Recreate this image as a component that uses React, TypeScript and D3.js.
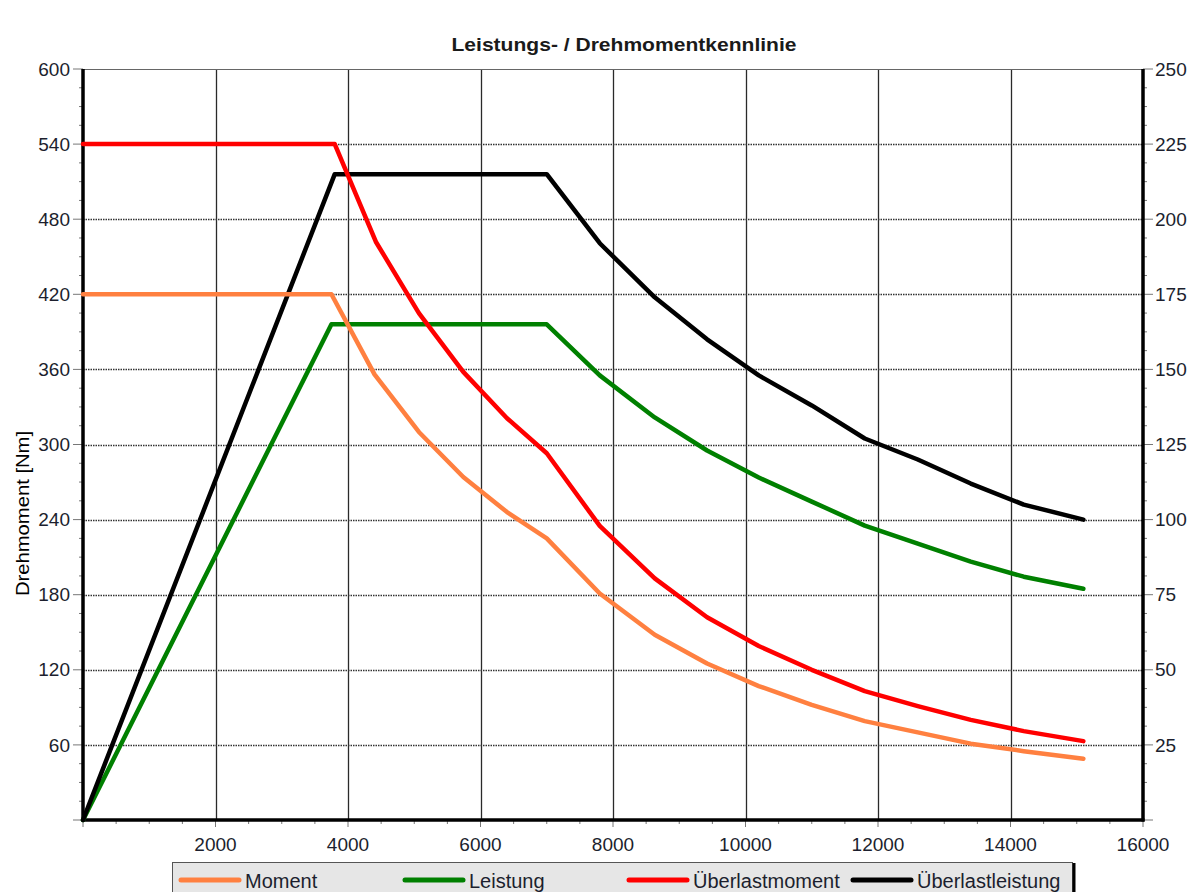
import * as d3 from 'd3';
import { useEffect, useRef } from 'react';

// ── Data ──────────────────────────────────────────────────────────────────
const rpmNominal = [0, 3750, 4400, 5070, 5740, 6400, 7000, 7800, 8630, 9420, 10200, 11000, 11800, 12600, 13400, 14200, 15100];
const momentNm = [420, 420, 356, 310, 274, 246, 225, 181, 148, 125, 107, 92, 79, 70, 61, 55, 49];
const leistungKw = [0, 165, 165, 165, 165, 165, 165, 148, 134, 123, 114, 106, 98, 92, 86, 81, 77];

const rpmOverload = [0, 3800, 4420, 5070, 5740, 6400, 7000, 7800, 8630, 9420, 10200, 11000, 11800, 12600, 13400, 14200, 15100];
const ueberlastMomentNm = [540, 540, 462, 405, 358, 321, 293, 235, 193, 162, 139, 120, 103, 91, 80, 71, 63];
const ueberlastLeistungKw = [0, 215, 215, 215, 215, 215, 215, 192, 174, 160, 148, 138, 127, 120, 112, 105, 100];

const xTickValues = [2000, 4000, 6000, 8000, 10000, 12000, 14000, 16000];
const yLeftTickValues = [60, 120, 180, 240, 300, 360, 420, 480, 540, 600];
const yRightTickValues = [25, 50, 75, 100, 125, 150, 175, 200, 225, 250];

const legendLabels = ['Moment', 'Leistung', 'Überlastmoment', 'Überlastleistung'];
const seriesColors = ['#ff8040', '#008000', '#ff0000', '#000000'];

const W = 1197;
const H = 892;
const margin = { top: 69, right: 54, bottom: 72, left: 83 };

const App = () => {
  const svgRef = useRef<SVGSVGElement | null>(null);

  useEffect(() => {
    if (!svgRef.current) return;
    const svg = d3.select(svgRef.current);
    svg.selectAll('*').remove();

    const x0 = margin.left;
    const x1 = W - margin.right;
    const y0 = H - margin.bottom;
    const y1 = margin.top;

    // ── Scales ──────────────────────────────────────────────────────────
    const x = d3.scaleLinear().domain([0, 16000]).range([x0, x1]);
    const yL = d3.scaleLinear().domain([0, 600]).range([y0, y1]);
    const yR = d3.scaleLinear().domain([0, 250]).range([y0, y1]);

    svg.append('rect').attr('width', W).attr('height', H).attr('fill', '#fff');

    // ── Grid ────────────────────────────────────────────────────────────
    const grid = svg.append('g');
    grid
      .selectAll('line.vg')
      .data(xTickValues.filter(v => v < 16000))
      .join('line')
      .attr('x1', d => Math.round(x(d)) + 0.5)
      .attr('x2', d => Math.round(x(d)) + 0.5)
      .attr('y1', y1)
      .attr('y2', y0)
      .attr('stroke', '#2a2a2a')
      .attr('stroke-width', 1.3);

    grid
      .selectAll('line.hg')
      .data(yLeftTickValues.filter(v => v < 600))
      .join('line')
      .attr('x1', x0)
      .attr('x2', x1)
      .attr('y1', d => Math.round(yL(d)) + 0.5)
      .attr('y2', d => Math.round(yL(d)) + 0.5)
      .attr('stroke', '#333')
      .attr('stroke-width', 1.3)
      .attr('stroke-dasharray', '1.5 1');

    // top border
    svg.append('line').attr('x1', x0).attr('x2', x1).attr('y1', y1 + 0.5).attr('y2', y1 + 0.5).attr('stroke', '#666').attr('stroke-width', 1.2);

    // ── Axes ────────────────────────────────────────────────────────────
    const tickFont = "'Liberation Sans', Arial, sans-serif";
    const tickColor = '#1c1f2e';

    const xMinor = d3.range(0, 16001, 500);
    svg
      .append('g')
      .selectAll('line')
      .data(xMinor)
      .join('line')
      .attr('x1', d => x(d))
      .attr('x2', d => x(d))
      .attr('y1', y0)
      .attr('y2', d => (d % 2000 === 0 ? y0 + 7 : y0 + 4))
      .attr('stroke', '#777')
      .attr('stroke-width', 1);

    const yLMinor = d3.range(0, 601, 15);
    svg
      .append('g')
      .selectAll('line')
      .data(yLMinor)
      .join('line')
      .attr('x1', d => (d % 60 === 0 ? x0 - 10 : x0 - 4))
      .attr('x2', x0)
      .attr('y1', d => yL(d))
      .attr('y2', d => yL(d))
      .attr('stroke', '#777')
      .attr('stroke-width', 1);

    const yRMinor = d3.range(0, 251, 6.25);
    svg
      .append('g')
      .selectAll('line')
      .data(yRMinor)
      .join('line')
      .attr('x1', x1)
      .attr('x2', d => (d % 25 === 0 ? x1 + 10 : x1 + 4))
      .attr('y1', d => yR(d))
      .attr('y2', d => yR(d))
      .attr('stroke', '#777')
      .attr('stroke-width', 1);

    // axis lines
    svg.append('line').attr('x1', x0).attr('x2', x0).attr('y1', y1).attr('y2', y0 + 1.5).attr('stroke', '#000').attr('stroke-width', 3.5);
    svg.append('line').attr('x1', x1).attr('x2', x1).attr('y1', y1).attr('y2', y0 + 1.5).attr('stroke', '#000').attr('stroke-width', 3.5);
    svg.append('line').attr('x1', x0 - 1.5).attr('x2', x1 + 1.5).attr('y1', y0).attr('y2', y0).attr('stroke', '#000').attr('stroke-width', 3.5);

    // tick labels
    svg
      .append('g')
      .selectAll('text')
      .data(xTickValues)
      .join('text')
      .attr('x', d => x(d))
      .attr('y', y0 + 31)
      .attr('text-anchor', 'middle')
      .attr('font-family', tickFont)
      .attr('font-size', 19)
      .attr('fill', tickColor)
      .text(d => d);

    svg
      .append('g')
      .selectAll('text')
      .data(yLeftTickValues)
      .join('text')
      .attr('x', x0 - 13)
      .attr('y', d => yL(d))
      .attr('dy', '0.35em')
      .attr('text-anchor', 'end')
      .attr('font-family', tickFont)
      .attr('font-size', 19)
      .attr('fill', tickColor)
      .text(d => d);

    svg
      .append('g')
      .selectAll('text')
      .data(yRightTickValues)
      .join('text')
      .attr('x', x1 + 12)
      .attr('y', d => yR(d))
      .attr('dy', '0.35em')
      .attr('text-anchor', 'start')
      .attr('font-family', tickFont)
      .attr('font-size', 19)
      .attr('fill', tickColor)
      .text(d => d);

    // title + axis label
    svg
      .append('text')
      .attr('x', 624)
      .attr('y', 51)
      .attr('text-anchor', 'middle')
      .attr('font-family', tickFont)
      .attr('font-weight', 'bold')
      .attr('font-size', 19)
      .attr('textLength', 345)
      .attr('lengthAdjust', 'spacingAndGlyphs')
      .attr('fill', '#1a1a1a')
      .text('Leistungs- / Drehmomentkennlinie');

    svg
      .append('text')
      .attr('transform', `translate(29,${(y0 + y1) / 2 + 69}) rotate(-90)`)
      .attr('text-anchor', 'middle')
      .attr('font-family', tickFont)
      .attr('font-size', 19)
      .attr('textLength', 165)
      .attr('lengthAdjust', 'spacingAndGlyphs')
      .attr('fill', '#000')
      .text('Drehmoment [Nm]');

    // ── Lines ───────────────────────────────────────────────────────────
    const lineL = d3
      .line<[number, number]>()
      .x(d => x(d[0]))
      .y(d => yL(d[1]));
    const lineR = d3
      .line<[number, number]>()
      .x(d => x(d[0]))
      .y(d => yR(d[1]));

    const zipPts = (xs: number[], ys: number[]) => xs.map((v, i) => [v, ys[i]] as [number, number]);

    const plot = svg.append('g');
    const series = [
      { d: lineR(zipPts(rpmNominal, leistungKw)), c: seriesColors[1] },
      { d: lineR(zipPts(rpmOverload, ueberlastLeistungKw)), c: seriesColors[3] },
      { d: lineL(zipPts(rpmNominal, momentNm)), c: seriesColors[0] },
      { d: lineL(zipPts(rpmOverload, ueberlastMomentNm)), c: seriesColors[2] }
    ];
    plot
      .selectAll('path')
      .data(series)
      .join('path')
      .attr('d', s => s.d)
      .attr('fill', 'none')
      .attr('stroke', s => s.c)
      .attr('stroke-width', 4.5)
      .attr('stroke-linejoin', 'round')
      .attr('stroke-linecap', 'round');

    // ── Legend ──────────────────────────────────────────────────────────
    const legend = svg.append('g');
    legend.append('rect').attr('x', 172.5).attr('y', 862.5).attr('width', 900).attr('height', 40).attr('fill', '#e6e6e6').attr('stroke', '#555').attr('stroke-width', 1);
    legend.append('line').attr('x1', 1074).attr('x2', 1074).attr('y1', 863).attr('y2', 892).attr('stroke', '#000').attr('stroke-width', 3);

    const items = legend
      .selectAll('g')
      .data(legendLabels)
      .join('g')
      .attr('transform', (_, i) => `translate(${181 + i * 224},0)`);
    items
      .append('line')
      .attr('x1', 0)
      .attr('x2', 58)
      .attr('y1', 880)
      .attr('y2', 880)
      .attr('stroke', (_, i) => seriesColors[i])
      .attr('stroke-width', 5)
      .attr('stroke-linecap', 'round');
    items
      .append('text')
      .attr('x', 64)
      .attr('y', 888)
      .attr('font-family', tickFont)
      .attr('font-size', 20)
      .attr('fill', tickColor)
      .text(d => d);
  }, []);

  return (
    <div style={{ position: 'absolute', left: 0, top: 0, width: W, height: H, background: '#fff' }}>
      <svg ref={svgRef} width={W} height={H} style={{ display: 'block' }} />
    </div>
  );
};

export default App;
